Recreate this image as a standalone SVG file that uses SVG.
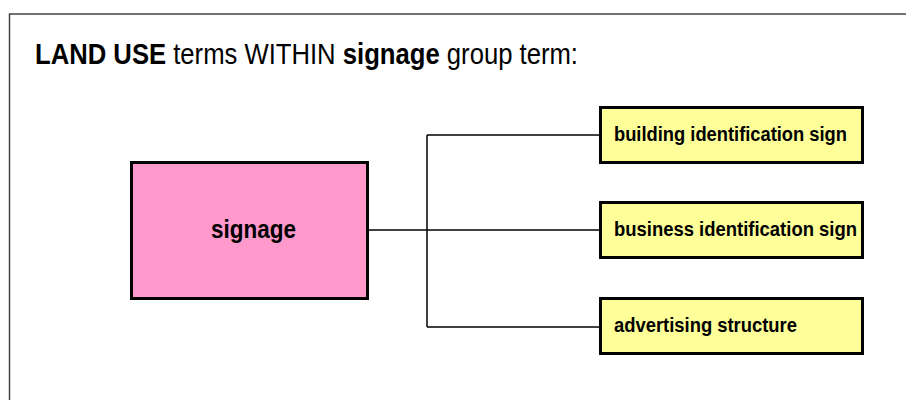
<svg xmlns="http://www.w3.org/2000/svg" width="906" height="400" viewBox="0 0 906 400">
<style>
.frame{stroke:#444;stroke-width:1.5;fill:none}
.conn{stroke:#000;stroke-width:1.5;fill:none}
.main{fill:#ff99cc;stroke:#000;stroke-width:3}
.leaf{fill:#ffff99;stroke:#000;stroke-width:3}
text{font-family:"Liberation Sans",Arial,sans-serif;fill:#000}
.lbl{font-size:20px;font-weight:bold}
.b{font-weight:bold}
</style>
<rect width="906" height="400" fill="#fff"/>
<path class="frame" d="M9.5,400 V14 H906"/>
<text x="35" y="64" font-size="29" textLength="543" lengthAdjust="spacingAndGlyphs"><tspan class="b">LAND USE</tspan> terms WITHIN <tspan class="b">signage</tspan> group term:</text>
<g id="connectors">
<path class="conn" d="M369,230 H600"/>
<path class="conn" d="M427,135 V327"/>
<path class="conn" d="M427,135 H600"/>
<path class="conn" d="M427,327 H600"/>
</g>
<g id="signage">
<rect class="main" x="131.5" y="162.5" width="236" height="136"/>
<text x="211" y="238" font-size="25" font-weight="bold" textLength="85" lengthAdjust="spacingAndGlyphs">signage</text>
</g>
<g id="building">
<rect class="leaf" x="600.5" y="107.5" width="262" height="55"/>
<text class="lbl" x="614" y="141" textLength="233" lengthAdjust="spacingAndGlyphs">building identification sign</text>
</g>
<g id="business">
<rect class="leaf" x="600.5" y="202.5" width="262" height="55"/>
<text class="lbl" x="614" y="236" textLength="243" lengthAdjust="spacingAndGlyphs">business identification sign</text>
</g>
<g id="advertising">
<rect class="leaf" x="600.5" y="298.5" width="262" height="55"/>
<text class="lbl" x="614" y="332" textLength="183" lengthAdjust="spacingAndGlyphs">advertising structure</text>
</g>
</svg>
